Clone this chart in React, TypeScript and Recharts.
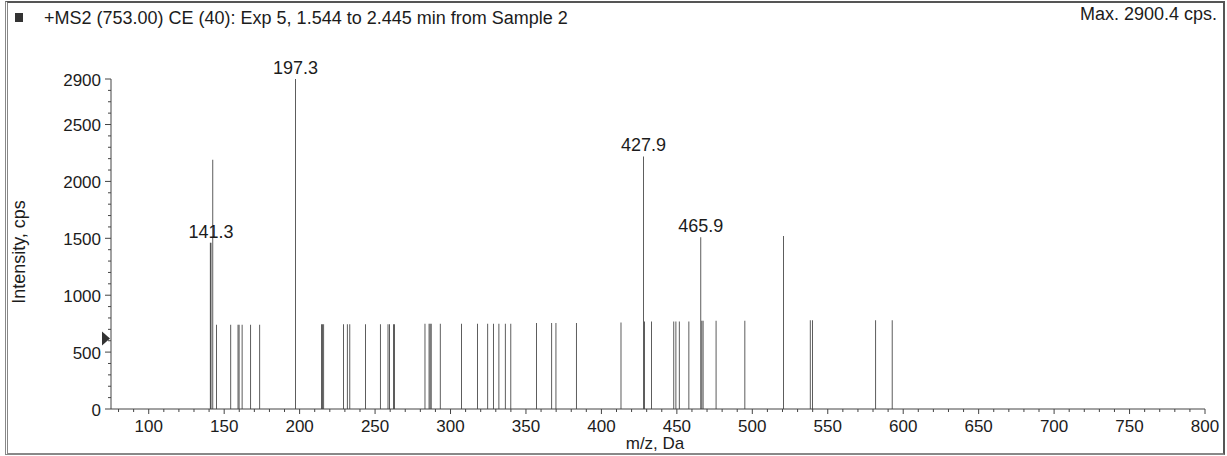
import { BarChart, Bar, XAxis, YAxis, LabelList, ReferenceDot } from "recharts";

// m/z positions of the fragment lines and their intensities (cps)
const mzValues = [
  140.8, 141.3, 142.5, 145.0, 154.4, 159.2, 159.9, 161.9, 167.6, 173.6,
  197.3, 214.5, 215.2, 216.0, 229.0, 231.6, 233.3, 243.6, 253.5, 258.6,
  259.6, 262.3, 262.8, 283.1, 285.8, 286.5, 287.2, 293.2, 307.2, 317.8,
  324.7, 328.4, 332.1, 336.3, 340.0, 357.1, 367.1, 369.9, 383.4, 413.0,
  427.9, 428.5, 433.2, 448.0, 449.4, 451.6, 458.0, 465.9, 466.6, 467.4,
  476.0, 495.1, 520.7, 538.4, 540.0, 581.8, 592.7,
];
const intensities = [
  1460, 1460, 2190, 740, 740, 740, 740, 740, 740, 740,
  2900, 745, 745, 745, 745, 745, 745, 745, 745, 745,
  745, 745, 745, 750, 750, 750, 750, 750, 750, 750,
  750, 750, 750, 750, 750, 755, 755, 755, 755, 760,
  2220, 770, 770, 770, 770, 770, 770, 1510, 775, 775,
  775, 775, 1520, 780, 780, 780, 780,
];
const labeledPeaks = [141.3, 197.3, 427.9, 465.9];

const xTicks = [
  80, 90, 100, 110, 120, 130, 140, 150, 160, 170, 180, 190, 200, 210, 220, 230, 240, 250,
  260, 270, 280, 290, 300, 310, 320, 330, 340, 350, 360, 370, 380, 390, 400, 410, 420, 430,
  440, 450, 460, 470, 480, 490, 500, 510, 520, 530, 540, 550, 560, 570, 580, 590, 600, 610,
  620, 630, 640, 650, 660, 670, 680, 690, 700, 710, 720, 730, 740, 750, 760, 770, 780, 790, 800,
];
const xMajorTicks = [100, 150, 200, 250, 300, 350, 400, 450, 500, 550, 600, 650, 700, 750, 800];
const yTicks = [
  0, 100, 200, 300, 400, 500, 600, 700, 800, 900, 1000, 1100, 1200, 1300, 1400, 1500,
  1600, 1700, 1800, 1900, 2000, 2100, 2200, 2300, 2400, 2500, 2600, 2700, 2800, 2900,
];
const yMajorTicks = [0, 500, 1000, 1500, 2000, 2500, 2900];
const thresholdLevel = 620;

const title = "+MS2 (753.00) CE (40): Exp 5, 1.544 to 2.445 min from Sample 2";
const maxText = "Max. 2900.4 cps.";

const spectrum = mzValues.map((mz, i) => ({
  mz,
  intensity: intensities[i],
  label: labeledPeaks.includes(mz) ? mz.toFixed(1) : undefined,
}));

const FONT = '"Liberation Sans", Arial, sans-serif';
const INK = "#1c1c1c";

function XTick(props: any) {
  const { x, y, payload } = props;
  const major = xMajorTicks.includes(payload.value);
  return (
    <g>
      <line x1={x} x2={x} y1={y} y2={y + (major ? 5 : 3)} stroke="#444" />
      {major && (
        <text x={x} y={y + 17} textAnchor="middle" dominantBaseline="central" fontSize={17} fill={INK} fontFamily={FONT}>
          {payload.value}
        </text>
      )}
    </g>
  );
}

function YTick(props: any) {
  const { x, y, payload } = props;
  const major = yMajorTicks.includes(payload.value);
  return (
    <g>
      <line x1={x - (major ? 6 : 3)} x2={x} y1={y} y2={y} stroke="#444" />
      {major && (
        <text x={x - 10} y={y + 1} textAnchor="end" dominantBaseline="central" fontSize={17} fill={INK} fontFamily={FONT}>
          {payload.value}
        </text>
      )}
    </g>
  );
}

function PeakLabel(props: any) {
  const { x, y, width, value } = props;
  if (value === undefined || value === null || value === "") return null;
  return (
    <text x={x + width / 2} y={y - 11} textAnchor="middle" dominantBaseline="central" fontSize={18} fill={INK} fontFamily={FONT}>
      {value}
    </text>
  );
}

function Threshold(props: any) {
  const { cx, cy } = props;
  return <polygon points={`${cx - 9},${cy - 7} ${cx - 1},${cy} ${cx - 9},${cy + 7}`} fill="#333" />;
}

export default function App() {
  return (
    <div style={{ position: "relative", width: 1227, height: 456, background: "#fff", fontFamily: FONT, color: INK }}>
      <style>{"body{margin:0}"}</style>
      <div
        style={{
          position: "absolute",
          left: 5,
          top: 1,
          width: 1215,
          height: 450,
          borderTop: "2px solid #555",
          borderLeft: "3px double #888",
          borderRight: "2px solid #555",
          borderBottom: "2px solid #888",
        }}
      />
      <div style={{ position: "absolute", left: 15, top: 13, width: 8, height: 9, background: "#333" }} />
      <div style={{ position: "absolute", left: 44, top: 8, fontSize: 18, lineHeight: "20px", whiteSpace: "nowrap" }}>{title}</div>
      <div style={{ position: "absolute", right: 10, top: 4, fontSize: 18, lineHeight: "20px", whiteSpace: "nowrap" }}>{maxText}</div>
      <div style={{ position: "absolute", left: 0, top: 0 }}>
        <BarChart
          width={1227}
          height={456}
          data={spectrum}
          margin={{ top: 79, right: 22, bottom: 0, left: 0 }}
          barSize={1}
        >
          <XAxis
            dataKey="mz"
            type="number"
            domain={[75, 800]}
            ticks={xTicks}
            interval={0}
            allowDataOverflow
            height={47}
            tickSize={0}
            tickMargin={0}
            tick={<XTick />}
            stroke="#444"
            label={(lp: any) => {
              const vb = lp.viewBox;
              return (
                <text x={vb.x + vb.width / 2 - 3} y={vb.y + 34} textAnchor="middle" dominantBaseline="central" fontSize={17} fill={INK} fontFamily={FONT}>
                  m/z, Da
                </text>
              );
            }}
          />
          <YAxis
            type="number"
            domain={[0, 2900]}
            ticks={yTicks}
            interval={0}
            width={111}
            tickSize={0}
            tickMargin={0}
            tick={<YTick />}
            stroke="#444"
            label={(lp: any) => {
              const vb = lp.viewBox;
              const cx = 19;
              const cy = vb.y + vb.height / 2 + 8;
              return (
                <text x={cx} y={cy} transform={`rotate(-90, ${cx}, ${cy})`} textAnchor="middle" dominantBaseline="central" fontSize={18} fill={INK} fontFamily={FONT}>
                  Intensity, cps
                </text>
              );
            }}
          />
          <Bar dataKey="intensity" fill="#111" isAnimationActive={false}>
            <LabelList dataKey="label" content={<PeakLabel />} />
          </Bar>
          <ReferenceDot x={75} y={thresholdLevel} r={0} shape={<Threshold />} ifOverflow="visible" />
        </BarChart>
      </div>
    </div>
  );
}
